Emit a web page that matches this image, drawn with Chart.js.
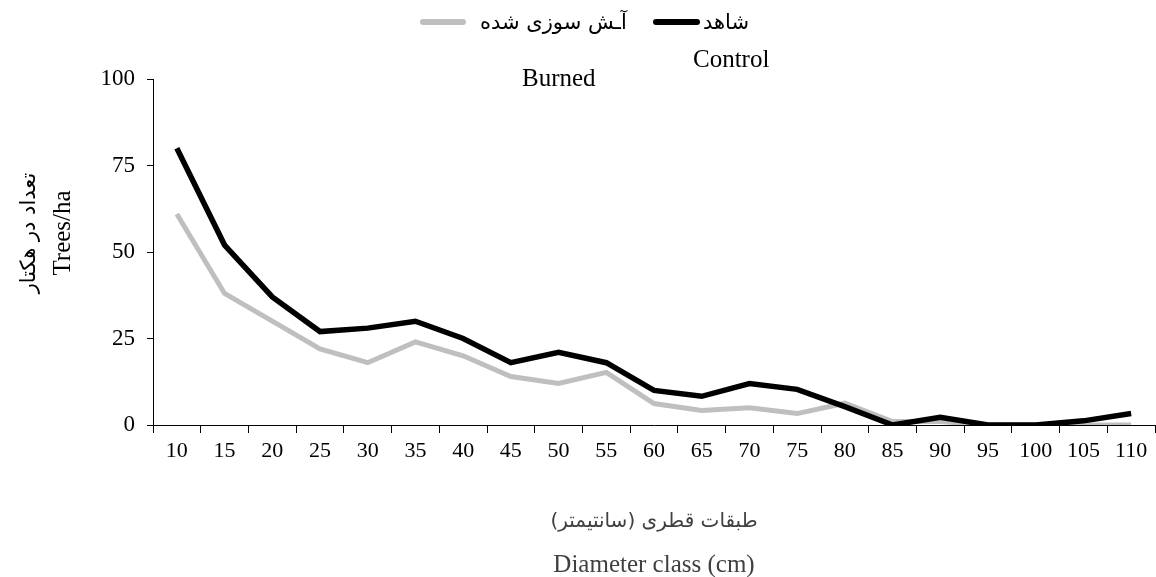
<!DOCTYPE html>
<html>
<head>
<meta charset="utf-8">
<script src="https://cdn.jsdelivr.net/npm/chart.js@4"></script>
<style>
  html, body { margin: 0; padding: 0; background: #fff; }
  #wrap { position: relative; width: 1156px; height: 577px; }
  #chart { position: absolute; left: 0; top: 0; }
  .lg { position: absolute; font-family: "Liberation Serif", serif; font-size: 25px; color: #000; white-space: nowrap; line-height: 1; }
  .lg.fa { font-family: "DejaVu Sans", sans-serif; font-size: 21px; }
  .sw { position: absolute; height: 6px; border-radius: 3px; }
</style>
</head>
<body>
<div id="wrap">
  <canvas id="chart" width="1156" height="577"></canvas>
  <div id="legend"></div>
</div>
<script>
// diameter classes (cm)
const categories = ['10', '15', '20', '25', '30', '35', '40', '45', '50', '55', '60',
  '65', '70', '75', '80', '85', '90', '95', '100', '105', '110'];

// trees per hectare
const controlValues = [80, 52, 37, 27, 28, 30, 25, 18, 21, 18, 10, 8.3, 12, 10.3, 5.3, 0, 2.2, 0, 0, 1.2, 3.3];
const burnedValues  = [61, 38, 30, 22, 18, 24, 20, 14, 12, 15.2, 6.2, 4.2, 5, 3.3, 6.3, 1, 1, 0, 0, 0, 0];

const yTicks = [0, 25, 50, 75, 100];

const seriesFa = ['شاهد', 'آـش سوزی شده'];
const seriesEn = ['Control', 'Burned'];
const seriesColors = ['#000000', '#bfbfbf'];

const yTitle = ['تعداد در هکتار', 'Trees/ha'];
const xTitle = ['طبقات قطری (سانتیمتر)\u200F', 'Diameter class (cm)'];

const FONT = '"Liberation Serif", serif';
const EN_FONT = '25px "Liberation Serif", serif';

// html legend: persian labels on top row, english below
function buildLegend() {
  const box = document.getElementById('legend');
  const items = [
    { sw: [653, 19, 47], fa: [703, 12], en: [693, 46] },
    { sw: [420, 19, 46], fa: [480, 12], en: [522, 65] }
  ];
  items.forEach((it, i) => {
    const sw = document.createElement('div');
    sw.className = 'sw';
    sw.style.left = it.sw[0] + 'px';
    sw.style.top = it.sw[1] + 'px';
    sw.style.width = it.sw[2] + 'px';
    sw.style.background = seriesColors[i];
    box.appendChild(sw);

    const fa = document.createElement('span');
    fa.className = 'lg fa';
    fa.dir = 'rtl';
    fa.textContent = seriesFa[i];
    fa.style.left = it.fa[0] + 'px';
    fa.style.top = it.fa[1] + 'px';
    box.appendChild(fa);

    const en = document.createElement('span');
    en.className = 'lg';
    en.textContent = seriesEn[i];
    en.style.left = it.en[0] + 'px';
    en.style.top = it.en[1] + 'px';
    box.appendChild(en);
  });
}
buildLegend();

// two-line axis titles (persian + english use different fonts)
const axisTitles = {
  id: 'axisTitles',
  afterDraw(chart) {
    const c = chart.ctx;
    const area = chart.chartArea;
    c.save();
    c.textAlign = 'center';
    c.textBaseline = 'middle';

    // x title
    const cx = (area.left + area.right) / 2;
    c.fillStyle = '#404040';
    c.font = '20px "DejaVu Sans", sans-serif';
    c.fillText(xTitle[0], cx, area.bottom + 97);
    c.font = EN_FONT;
    c.fillText(xTitle[1], cx, area.bottom + 140);

    // y title, rotated
    c.fillStyle = '#000';
    c.translate(0, (area.top + area.bottom) / 2 - 19);
    c.rotate(-Math.PI / 2);
    c.font = '21px "DejaVu Sans", sans-serif';
    c.fillText(yTitle[0], 0, 30);
    c.font = EN_FONT;
    c.fillText(yTitle[1], 0, 63);
    c.restore();
  }
};

const ctx = document.getElementById('chart').getContext('2d');
new Chart(ctx, {
  type: 'line',
  data: {
    labels: categories,
    datasets: [
      {
        label: seriesEn[0],
        data: controlValues,
        borderColor: seriesColors[0],
        borderWidth: 5.5,
        pointRadius: 0,
        tension: 0,
        fill: false
      },
      {
        label: seriesEn[1],
        data: burnedValues,
        borderColor: seriesColors[1],
        borderWidth: 5,
        pointRadius: 0,
        tension: 0,
        fill: false
      }
    ]
  },
  options: {
    responsive: false,
    animation: false,
    layout: { padding: { top: 79, left: 0, right: 1, bottom: 0 } },
    plugins: {
      legend: { display: false },
      tooltip: { enabled: false }
    },
    scales: {
      x: {
        offset: true,
        grid: { offset: true, drawOnChartArea: false, drawTicks: true, tickLength: 8, color: '#000' },
        border: { color: '#000', width: 1 },
        ticks: { color: '#000', padding: 5, maxRotation: 0, autoSkip: false, font: { family: FONT, size: 22 } },
        afterFit: (scale) => { scale.height = 152; }
      },
      y: {
        min: 0,
        max: 100,
        afterBuildTicks: (scale) => { scale.ticks = yTicks.map(v => ({ value: v })); },
        grid: { drawOnChartArea: false, drawTicks: true, tickLength: 6, color: '#000' },
        border: { color: '#000', width: 1 },
        ticks: { color: '#000', padding: 12, font: { family: FONT, size: 23 } },
        afterFit: (scale) => { scale.width = 153; }
      }
    }
  },
  plugins: [axisTitles]
});
</script>
</body>
</html>
